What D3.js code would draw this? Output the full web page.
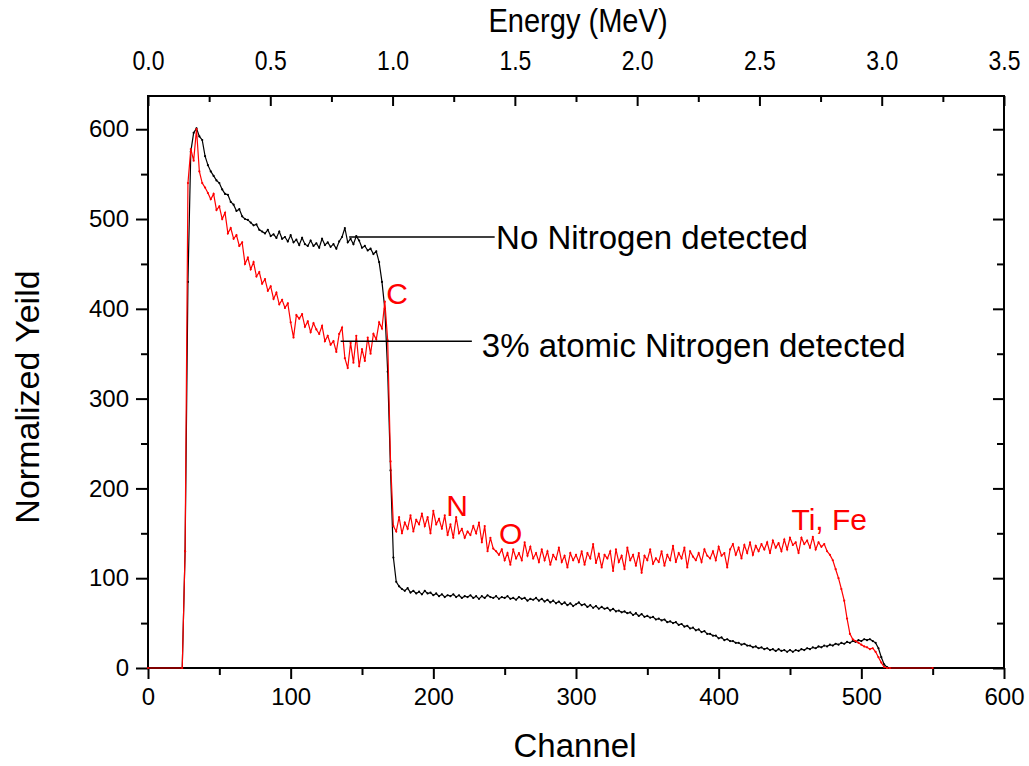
<!DOCTYPE html>
<html lang="en">
<head>
<meta charset="UTF-8">
<title>RBS spectrum - nitrogen</title>
<script src="https://cdn.jsdelivr.net/npm/d3@7"></script>
<style>
  body { margin: 0; background: #fff; }
  svg text { font-family: "Liberation Sans", Arial, sans-serif; fill: #000; }
</style>
</head>
<body>
<svg id="chart" width="1029" height="766"></svg>
<script>
// channels 24..520, every 2nd channel
const firstChannel = 24, channelStep = 2;
const zeroChannels = [0, 550];

// "No Nitrogen detected" spectrum (black)
const blackYield = [
  0, 130, 430, 575, 596, 601, 592, 588, 570, 560,
  553, 548, 543, 540, 533, 528, 527, 519, 516, 509,
  511, 503, 500, 499, 496, 493, 494, 488, 486, 484,
  488, 481, 483, 479, 486, 478, 480, 475, 482, 474,
  477, 471, 479, 472, 470, 476, 470, 473, 468, 478,
  471, 474, 469, 472, 467, 475, 480, 490, 474, 478,
  472, 481, 476, 468, 470, 465, 467, 461, 464, 452,
  430, 400, 330, 220, 123, 96, 91, 88, 86, 89,
  84, 86, 83, 85, 82, 86, 83, 84, 81, 83,
  80, 82, 79, 81, 80, 82, 79, 81, 78, 80,
  79, 81, 78, 80, 77, 80, 78, 81, 79, 78,
  80, 77, 79, 78, 80, 77, 78, 76, 79, 77,
  78, 75, 77, 76, 78, 75, 77, 74, 76, 73,
  75, 72, 74, 71, 73, 70, 72, 69, 71, 73,
  70, 71, 68, 70, 67, 69, 66, 68, 66, 67,
  64, 66, 63, 64, 62, 63, 61, 62, 59, 61,
  58, 60, 57, 58, 56, 57, 54, 55, 53, 54,
  51, 52, 50, 51, 48, 49, 46, 47, 44, 45,
  42, 43, 40, 41, 38, 38, 36, 36, 33, 34,
  31, 32, 30, 30, 28, 28, 26, 27, 25, 25,
  23, 24, 22, 23, 21, 22, 20, 21, 19, 21,
  19, 20, 18, 20, 18, 20, 19, 21, 20, 22,
  21, 23, 22, 24, 23, 25, 24, 26, 25, 27,
  26, 28, 27, 29, 28, 30, 29, 31, 30, 32,
  31, 32, 30, 28, 22, 12, 4, 1, 0
];

// "3% atomic Nitrogen detected" spectrum (red)
const redYield = [
  0, 130, 540, 578, 565, 600, 553, 540, 535, 529,
  522, 528, 510, 514, 500, 507, 484, 490, 478, 482,
  470, 474, 450, 457, 444, 452, 436, 441, 428, 433,
  420, 425, 411, 418, 405, 410, 401, 406, 385, 368,
  393, 389, 394, 380, 386, 374, 384, 377, 372, 381,
  364, 370, 360, 364, 352, 372, 379, 345, 334, 362,
  340, 370, 336, 355, 342, 368, 350, 372, 366, 385,
  378, 408, 365, 230, 158, 152, 168, 150, 162, 155,
  170, 152, 165, 160, 172, 158, 168, 150, 175, 160,
  166, 155, 170, 148, 160, 145, 168, 150, 155, 145,
  152, 148, 158, 150, 162, 140, 158, 130, 145, 133,
  130, 126, 132, 120, 128, 115, 132, 122, 128, 120,
  140, 125, 135, 122, 128, 118, 132, 120, 130, 115,
  126, 121, 134, 118, 125, 112, 128, 120, 126, 118,
  130, 115, 128, 122, 138, 117, 127, 112, 126, 122,
  130, 108, 132, 118, 125, 110, 134, 120, 126, 114,
  128, 106, 125, 120, 132, 116, 122, 118, 130, 114,
  126, 120, 136, 118, 128, 122, 134, 112, 130, 124,
  120, 128, 118, 132, 125, 122, 130, 120, 135, 125,
  128, 112, 132, 138, 126, 134, 122, 137, 128, 140,
  126, 136, 130, 138, 132, 140, 128, 142, 134, 139,
  130, 143, 132, 145, 137, 140, 128, 145, 138, 142,
  134, 146, 132, 140, 135, 138, 130, 126, 120, 110,
  100, 88, 75, 55, 38, 32, 30, 28, 26, 24,
  23, 21, 22, 18, 12, 6, 1, 0, 0
];

const channelTicks = [0, 100, 200, 300, 400, 500, 600];
const channelMinor = [50, 150, 250, 350, 450, 550];
const yieldTicks = [0, 100, 200, 300, 400, 500, 600];
const yieldMinor = [50, 150, 250, 350, 450, 550];
const energyTicks = [0, 0.5, 1.0, 1.5, 2.0, 2.5, 3.0, 3.5];
const energyMinor = [0.25, 0.75, 1.25, 1.75, 2.25, 2.75, 3.25];

// annotations: [channel, yield]
const noNitroLine = [[141, 480], [243, 480]];
const nitroLine = [[135, 364], [227, 364]];
const elementLabels = [
  { text: "C", ch: 167, y: 405 },
  { text: "N", ch: 209, y: 169 },
  { text: "O", ch: 246, y: 138 },
  { text: "Ti, Fe", ch: 451, y: 154 }
];

const svg = d3.select("#chart");
const plotLeft = 148, plotRight = 1004, plotTop = 96, plotBottom = 668;
const narrow = 0.82; // the energy axis uses a condensed face

const x = d3.scaleLinear().domain([0, 600]).range([plotLeft, plotRight]);
const y = d3.scaleLinear().domain([0, 637]).range([plotBottom, plotTop]);
const energy = d3.scaleLinear().domain([0, 3.5]).range([plotLeft, plotRight]);

function toPoints(vals) {
  let pts = [[zeroChannels[0], 0]];
  vals.forEach((v, i) => pts.push([firstChannel + i * channelStep, v]));
  pts.push([zeroChannels[1], 0]);
  return pts;
}

// axes
function styleAxis(g, fontSize) {
  g.attr("font-family", null);
  g.select(".domain").remove();
  g.selectAll("line").attr("stroke", "#000").attr("stroke-width", 2);
  g.selectAll("text").attr("font-size", fontSize).attr("fill", "#000");
}

svg.append("g").attr("transform", `translate(0,${plotBottom})`)
  .call(d3.axisBottom(x).tickValues(channelTicks).tickSize(11).tickPadding(9).tickSizeOuter(0))
  .call(g => styleAxis(g, 24));
svg.append("g").attr("transform", `translate(0,${plotBottom})`)
  .call(d3.axisBottom(x).tickValues(channelMinor).tickSize(7).tickFormat("").tickSizeOuter(0))
  .call(g => styleAxis(g, 24));

svg.append("g").attr("transform", `translate(${plotLeft},0)`)
  .call(d3.axisLeft(y).tickValues(yieldTicks).tickSize(12).tickPadding(7).tickSizeOuter(0))
  .call(g => styleAxis(g, 24));
svg.append("g").attr("transform", `translate(${plotLeft},0)`)
  .call(d3.axisLeft(y).tickValues(yieldMinor).tickSize(7).tickFormat("").tickSizeOuter(0))
  .call(g => styleAxis(g, 24));

svg.append("g").attr("transform", `translate(${plotRight},0)`)
  .call(d3.axisRight(y).tickValues(yieldTicks).tickSize(-11).tickFormat("").tickSizeOuter(0))
  .call(g => styleAxis(g, 24));
svg.append("g").attr("transform", `translate(${plotRight},0)`)
  .call(d3.axisRight(y).tickValues(yieldMinor).tickSize(-7).tickFormat("").tickSizeOuter(0))
  .call(g => styleAxis(g, 24));

svg.append("g").attr("transform", `translate(0,${plotTop})`)
  .call(d3.axisTop(energy).tickValues(energyTicks).tickSize(-10).tickPadding(26)
    .tickFormat(d3.format(".1f")).tickSizeOuter(0))
  .call(g => styleAxis(g, 28))
  .call(g => g.selectAll("text").attr("transform", `scale(${narrow},1)`));
svg.append("g").attr("transform", `translate(0,${plotTop})`)
  .call(d3.axisTop(energy).tickValues(energyMinor).tickSize(-6).tickFormat("").tickSizeOuter(0))
  .call(g => styleAxis(g, 24));

// frame
svg.append("rect")
  .attr("x", plotLeft).attr("y", plotTop)
  .attr("width", plotRight - plotLeft).attr("height", plotBottom - plotTop)
  .attr("fill", "none").attr("stroke", "#000").attr("stroke-width", 2);

// data
const line = d3.line().x(d => x(d[0])).y(d => y(d[1]));
function drawSeries(vals, color) {
  let pts = toPoints(vals);
  svg.append("path").datum(pts)
    .attr("d", line).attr("fill", "none")
    .attr("stroke", color).attr("stroke-width", 1.2);
  svg.append("g").selectAll("circle").data(pts).join("circle")
    .attr("cx", d => x(d[0])).attr("cy", d => y(d[1]))
    .attr("r", 1.1).attr("fill", color);
}
drawSeries(blackYield, "#000");
drawSeries(redYield, "#ff0000");

// annotation leader lines
[noNitroLine, nitroLine].forEach(seg => {
  svg.append("line")
    .attr("x1", x(seg[0][0])).attr("y1", y(seg[0][1]))
    .attr("x2", x(seg[1][0])).attr("y2", y(seg[1][1]))
    .attr("stroke", "#000").attr("stroke-width", 1.5);
});
svg.append("text").attr("x", x(244)).attr("y", y(480)).attr("dy", "0.36em")
  .attr("font-size", 33).text("No Nitrogen detected");
svg.append("text").attr("x", x(234)).attr("y", y(360)).attr("dy", "0.36em")
  .attr("font-size", 33).text("3% atomic Nitrogen detected");

svg.append("g").selectAll("text").data(elementLabels).join("text")
  .attr("x", d => x(d.ch)).attr("y", d => y(d.y))
  .attr("font-size", 30).style("fill", "#ff0000")
  .text(d => d.text);

// titles
svg.append("text").attr("x", 575).attr("y", 757).attr("text-anchor", "middle")
  .attr("font-size", 33).text("Channel");
svg.append("text").attr("transform", "translate(39,397) rotate(-90)")
  .attr("text-anchor", "middle").attr("font-size", 34).text("Normalized Yeild");
svg.append("text").attr("transform", `translate(578,32) scale(0.88,1)`)
  .attr("text-anchor", "middle").attr("font-size", 33).text("Energy (MeV)");
</script>
</body>
</html>
